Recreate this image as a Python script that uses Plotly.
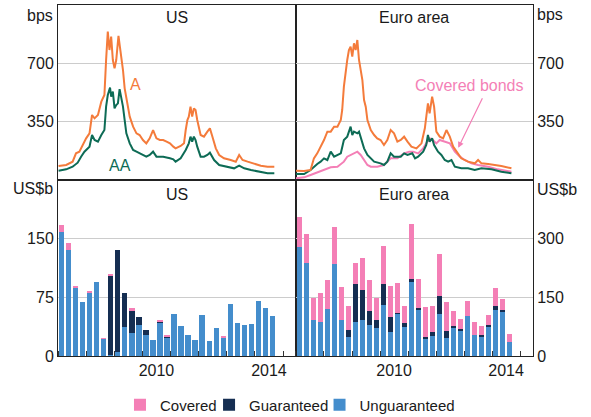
"""Bank bond spreads and issuance - US vs euro area"""

import plotly.graph_objects as go

COLORS = {
    'a': '#f47b3b',
    'aa': '#0d6b55',
    'covered': '#f47fb6',
    'guaranteed': '#152e52',
    'unguaranteed': '#448dcc',
    'grid': '#cccccc',
    'text': '#1a1a1a',
}

# --- spreads (bps), decimal years ---
us_a_x = [2007.02, 2007.29, 2007.52, 2007.64, 2007.76, 2007.88, 2008.00, 2008.12, 2008.21, 2008.30,
          2008.42, 2008.54, 2008.65, 2008.71, 2008.77, 2008.83, 2008.89, 2008.95, 2009.01, 2009.07,
          2009.15, 2009.20, 2009.25, 2009.31, 2009.37, 2009.43, 2009.55, 2009.67, 2009.79, 2009.90,
          2010.02, 2010.14, 2010.26, 2010.38, 2010.50, 2010.62, 2010.74, 2010.86, 2010.98, 2011.10,
          2011.18, 2011.36, 2011.48, 2011.54, 2011.60, 2011.65, 2011.71, 2011.77, 2011.83, 2011.89,
          2011.95, 2012.07, 2012.19, 2012.31, 2012.40, 2012.49, 2012.61, 2012.73, 2012.90, 2013.14,
          2013.32, 2013.44, 2013.56, 2013.74, 2013.98, 2014.21, 2014.45, 2014.69]
us_a = [84, 90, 110, 160, 170, 210, 250, 280, 390, 370,
        390, 470, 510, 720, 890, 780, 860, 720, 670, 720,
        865, 800, 740, 660, 550, 500, 380, 320, 280, 270,
        240, 220, 250, 300, 250, 240, 240, 230, 220, 200,
        190, 204, 220, 300, 360, 380, 440, 380, 430, 420,
        360, 270, 260, 290, 310, 260, 190, 150, 130, 120,
        110, 150, 120, 110, 96, 86, 80, 80]

us_aa_x = [2007.02, 2007.29, 2007.52, 2007.70, 2007.82, 2007.94, 2008.12, 2008.21, 2008.30, 2008.42,
           2008.54, 2008.65, 2008.71, 2008.77, 2008.85, 2008.89, 2008.95, 2009.01, 2009.07, 2009.13,
           2009.19, 2009.25, 2009.31, 2009.37, 2009.43, 2009.55, 2009.67, 2009.79, 2009.90, 2010.02,
           2010.14, 2010.26, 2010.38, 2010.50, 2010.74, 2010.98, 2011.10, 2011.18, 2011.36, 2011.54,
           2011.65, 2011.71, 2011.77, 2011.83, 2011.89, 2011.95, 2012.07, 2012.19, 2012.31, 2012.40,
           2012.55, 2012.73, 2012.96, 2013.26, 2013.44, 2013.62, 2013.86, 2014.10, 2014.45, 2014.69]
us_aa = [56, 64, 80, 104, 140, 170, 200, 270, 240, 230,
         270, 300, 440, 510, 555, 500, 530, 430, 450, 460,
         545, 500, 440, 360, 280, 220, 180, 170, 160, 150,
         140, 150, 170, 140, 140, 130, 124, 110, 130, 180,
         220, 260, 230, 260, 240, 200, 140, 140, 150, 164,
         120, 90, 80, 70, 86, 70, 60, 50, 40, 40]

ea_a_x = [2007.00, 2007.29, 2007.52, 2007.64, 2007.76, 2007.88, 2008.00, 2008.12, 2008.24, 2008.36,
          2008.48, 2008.60, 2008.65, 2008.71, 2008.77, 2008.83, 2008.89, 2008.95, 2009.01, 2009.07,
          2009.13, 2009.19, 2009.25, 2009.31, 2009.37, 2009.43, 2009.49, 2009.55, 2009.67, 2009.79,
          2009.90, 2010.02, 2010.14, 2010.26, 2010.38, 2010.50, 2010.62, 2010.74, 2010.86, 2010.98,
          2011.12, 2011.30, 2011.48, 2011.60, 2011.65, 2011.71, 2011.77, 2011.86, 2011.93, 2012.01,
          2012.13, 2012.25, 2012.37, 2012.49, 2012.61, 2012.73, 2012.90, 2013.14, 2013.38, 2013.50,
          2013.62, 2013.86, 2014.10, 2014.33, 2014.69]
ea_a = [56, 54, 60, 130, 160, 200, 240, 290, 290, 320,
        320, 360, 420, 560, 660, 720, 780, 800, 740, 820,
        780, 840, 720, 660, 600, 480, 440, 360, 300, 270,
        250, 240, 210, 240, 300, 280, 230, 240, 260, 230,
        200, 190, 220, 310, 380, 460, 400, 500, 440, 290,
        260, 250, 300, 260, 200, 170, 130, 110, 100, 120,
        100, 96, 90, 84, 70]

ea_aa_x = [2007.00, 2007.29, 2007.52, 2007.64, 2007.76, 2007.88, 2008.00, 2008.12, 2008.24, 2008.36,
           2008.48, 2008.60, 2008.71, 2008.83, 2008.95, 2009.01, 2009.07, 2009.19, 2009.25, 2009.31,
           2009.37, 2009.43, 2009.55, 2009.67, 2009.79, 2010.02, 2010.14, 2010.26, 2010.38, 2010.50,
           2010.74, 2010.86, 2010.98, 2011.15, 2011.25, 2011.36, 2011.54, 2011.65, 2011.71, 2011.77,
           2011.86, 2011.93, 2012.07, 2012.19, 2012.31, 2012.43, 2012.55, 2012.67, 2012.90, 2013.14,
           2013.38, 2013.62, 2013.98, 2014.33, 2014.69]
ea_aa = [36, 36, 60, 80, 96, 110, 130, 120, 170, 140,
         150, 160, 240, 260, 320, 270, 290, 280, 290, 260,
         220, 190, 150, 130, 110, 100, 90, 110, 160, 140,
         140, 160, 150, 160, 130, 140, 170, 210, 270, 230,
         250, 210, 170, 150, 120, 110, 120, 80, 70, 70,
         60, 70, 64, 50, 40]

ea_cov_x = [2007.00, 2007.29, 2007.52, 2007.76, 2008.00, 2008.24, 2008.48, 2008.71, 2008.83, 2008.95,
            2009.07, 2009.19, 2009.31, 2009.43, 2009.55, 2009.67, 2009.90, 2010.14, 2010.38, 2010.62,
            2010.86, 2011.04, 2011.18, 2011.36, 2011.54, 2011.65, 2011.77, 2011.89, 2012.01, 2012.13,
            2012.31, 2012.49, 2012.67, 2012.85, 2013.02, 2013.26, 2013.50, 2013.86, 2014.21, 2014.69]
ea_cov = [10, 16, 30, 44, 60, 76, 80, 110, 140, 150,
          160, 170, 150, 120, 90, 80, 80, 90, 130, 130,
          160, 170, 170, 160, 190, 220, 250, 240, 220, 240,
          230, 220, 170, 140, 120, 100, 90, 80, 64, 50]

# --- issuance (US$b), quarterly from 2007 Q1 ---
quarters = [2007 + (i + 0.5) / 4 for i in range(31)]

us_unguaranteed = [159, 135, 87, 69, 81, 95, 22, 1, 5, 37, 30, 39, 27, 20, 43, 23,
                   54, 38, 27, 21, 53, 19, 36, 24, 67, 42, 39, 41, 70, 62, 51]
us_guaranteed = [0, 0, 0, 0, 0, 0, 0, 102, 130, 44, 28, 11, 6, 0, 1, 2,
                 0, 0, 0, 0, 0, 0, 0, 0, 0, 0, 0, 0, 0, 0, 0]
us_covered = [8, 9, 3, 0, 2, 0, 1, 2, 0, 0, 3, 0, 0, 0, 1, 1,
              0, 0, 0, 0, 0, 0, 0, 2, 0, 0, 0, 0, 0, 0, 0]

ea_unguaranteed = [279, 239, 91, 88, 121, 236, 93, 48, 86, 93, 80, 71, 131, 62, 109, 75,
                   190, 118, 44, 51, 108, 47, 74, 66, 103, 54, 51, 74, 118, 114, 36]
ea_guaranteed = [0, 0, 0, 0, 0, 0, 0, 19, 97, 77, 34, 21, 52, 38, 2, 10,
                 6, 6, 5, 11, 46, 18, 2, 2, 0, 0, 3, 6, 11, 4, 0]
ea_covered = [76, 72, 57, 73, 74, 93, 83, 62, 54, 80, 81, 56, 99, 79, 75, 44,
              142, 74, 76, 67, 108, 74, 38, 27, 37, 34, 23, 26, 45, 29, 19]

year_ticks = list(range(2007, 2016))
year_labels = ['2010', '2014']
X_RANGE = [2007, 2015.46]

fig = go.Figure()

# spreads
for x, y, color, ax in [
    (us_a_x, us_a, COLORS['a'], ('x', 'y')),
    (us_aa_x, us_aa, COLORS['aa'], ('x', 'y')),
    (ea_cov_x, ea_cov, COLORS['covered'], ('x2', 'y2')),
    (ea_aa_x, ea_aa, COLORS['aa'], ('x2', 'y2')),
    (ea_a_x, ea_a, COLORS['a'], ('x2', 'y2')),
]:
    fig.add_trace(go.Scatter(x=x, y=y, mode='lines', line=dict(color=color, width=2),
                             xaxis=ax[0], yaxis=ax[1], showlegend=False, hoverinfo='skip'))

# issuance - one legend per item so they can sit as tightly as the original
for name, us_vals, ea_vals, leg in [
    ('Unguaranteed', us_unguaranteed, ea_unguaranteed, 'legend3'),
    ('Guaranteed', us_guaranteed, ea_guaranteed, 'legend2'),
    ('Covered', us_covered, ea_covered, 'legend'),
]:
    color = COLORS[name.lower()]
    fig.add_trace(go.Bar(x=quarters, y=us_vals, name=name, marker=dict(color=color, line_width=0),
                         width=0.19, xaxis='x3', yaxis='y3', legend=leg))
    fig.add_trace(go.Bar(x=quarters, y=ea_vals, name=name, marker=dict(color=color, line_width=0),
                         width=0.19, xaxis='x4', yaxis='y4', showlegend=False))

font = dict(family='Liberation Sans, Arial, sans-serif', size=16, color=COLORS['text'])
frame = dict(showline=True, mirror=True, linecolor='#222222', linewidth=1, zeroline=False,
             automargin=False)
top_dom, bot_dom = [0.5014, 1], [0, 0.5014]
left_dom, right_dom = [0, 0.501], [0.501, 1]

xtop = dict(range=X_RANGE, showticklabels=False, ticks='', showgrid=False, **frame)
xbot = dict(range=X_RANGE, tickvals=[2010.5, 2014.5], ticktext=year_labels, ticks='',
            showgrid=False, minor=dict(tickvals=year_ticks, ticks='inside', ticklen=5,
                                       tickcolor='#333333', showgrid=False), **frame)
ygrid = dict(showgrid=True, gridcolor=COLORS['grid'], gridwidth=1, ticks='', **frame)

leg_common = dict(orientation='h', y=-0.1396, yanchor='middle', xanchor='left',
                  font=dict(size=15), bgcolor='rgba(0,0,0,0)', borderwidth=0)

fig.update_layout(
    width=591, height=417,
    margin=dict(l=58, r=58, t=5, b=61, autoexpand=False),
    paper_bgcolor='white', plot_bgcolor='white',
    font=font, barmode='stack', bargap=0,
    xaxis=dict(domain=left_dom, anchor='y', **xtop),
    xaxis2=dict(domain=right_dom, anchor='y2', **xtop),
    xaxis3=dict(domain=left_dom, anchor='y3', **xbot),
    xaxis4=dict(domain=right_dom, anchor='y4', **xbot),
    yaxis=dict(domain=top_dom, anchor='x', range=[0, 1050], tickvals=[350, 700], **ygrid),
    yaxis2=dict(domain=top_dom, anchor='x2', side='right', range=[0, 1050],
                tickvals=[350, 700], **ygrid),
    yaxis3=dict(domain=bot_dom, anchor='x3', range=[0, 225], tickvals=[0, 75, 150], **ygrid),
    yaxis4=dict(domain=bot_dom, anchor='x4', side='right', range=[0, 450],
                tickvals=[0, 150, 300], **ygrid),
    legend=dict(x=0.1305, **leg_common),
    legend2=dict(x=0.318, **leg_common),
    legend3=dict(x=0.5506, **leg_common),
    showlegend=True,
)

notes = [
    dict(text='US', x=0.5, y=0.965, xref='x domain', yref='paper'),
    dict(text='Euro area', x=0.5, y=0.965, xref='x2 domain', yref='paper'),
    dict(text='US', x=0.5, y=0.459, xref='x3 domain', yref='paper'),
    dict(text='Euro area', x=0.5, y=0.459, xref='x4 domain', yref='paper'),
    dict(text='bps', x=-0.038, y=0.9715, xref='paper', yref='paper'),
    dict(text='bps', x=1.036, y=0.974, xref='paper', yref='paper'),
    dict(text='US$b', x=-0.0526, y=0.476, xref='paper', yref='paper'),
    dict(text='US$b', x=1.0505, y=0.473, xref='paper', yref='paper'),
    dict(text='A', x=2009.75, y=573, xref='x', yref='y', font=dict(color=COLORS['a'])),
    dict(text='AA', x=2009.21, y=90, xref='x', yref='y', font=dict(color=COLORS['aa'])),
    dict(text='Covered bonds', x=2013.21, y=567, xref='x2', yref='y2',
         font=dict(color=COLORS['covered'])),
]
for n in notes:
    fig.add_annotation(showarrow=False, xanchor='center', yanchor='middle', **n)

fig.add_annotation(x=2012.79, y=193, ax=2013.68, ay=500, xref='x2', yref='y2',
                   axref='x2', ayref='y2', text='', showarrow=True, arrowhead=2,
                   arrowsize=1, arrowwidth=1.2, arrowcolor=COLORS['covered'])

# the page body has a default 8px margin; drop it so the figure sits at the window origin
fig.write_html("out.html", config={'displayModeBar': False},
               post_script="document.body.style.margin='0';")
